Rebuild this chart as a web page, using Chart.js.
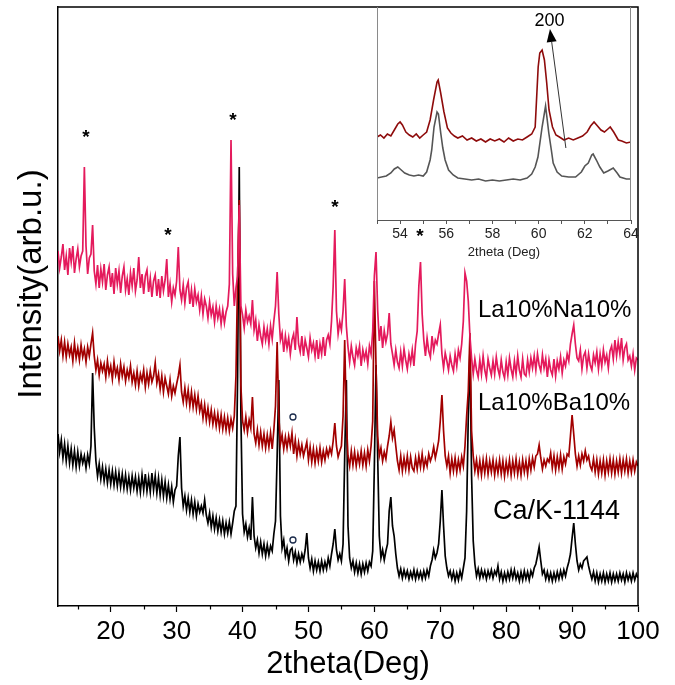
<!DOCTYPE html>
<html>
<head>
<meta charset="utf-8">
<script src="https://cdn.jsdelivr.net/npm/chart.js@4.4.1/dist/chart.umd.min.js"></script>
<style>
  html, body { margin: 0; padding: 0; background: #fff; }
  #wrap { position: relative; width: 675px; height: 685px; }
  #main { position: absolute; left: 0; top: 0; }
  #inset { position: absolute; left: 347px; top: 0; }
</style>
</head>
<body>
<div id="wrap">
  <canvas id="main" width="675" height="685"></canvas>
  <canvas id="inset" width="300" height="262"></canvas>
</div>
<script>
// ---- XRD scans: 2theta from 12 to 100 deg, 0.25 deg step ----
// Each row holds the counts at d, d+0.25, d+0.5, d+0.75 (stacked offsets included, arb. u.)
const scanStart = 12;
const scanStep = 0.25;
const sampleNames = ['La10%Na10%', 'La10%Ba10%', 'Ca/K-1144'];

const naCounts = [
  [355,338,349,362],[336,350,331,358],[344,360,333,347],[357,339,350,355],[439,360,332,348],
  [352,381,335,322],[341,318,337,324],[342,316,331,339],[319,333,312,338],[322,335,313,330],
  [339,316,327,311],[333,320,338,315],[326,349,318,332],[312,330,336,314],[328,309,325,331],
  [310,327,308,330],[315,326,347,309],[322,304,318,311],[325,359,316,306],[321,303,318,324],
  [302,316,299,317],[304,311,296,310],[292,307,300,288],[304,291,299,284],[300,288,297,282],
  [296,283,294,300],[322,466,332,300],[318,330,401,300],[291,278,296,284],[290,282,306,276],
  [286,265,281,270],[262,279,266,277],[262,280,267,285],[300,334,292,266],[273,254,270,258],
  [268,252,266,272],[256,289,262,254],[270,250,266,258],[249,268,256,263],[250,266,247,262],
  [252,269,250,266],[271,262,285,320],[376,295,272,284],[276,295,327,280],[259,244,260,249],
  [241,258,250,260],[240,256,247,255],[242,260,252,275],[330,354,296,265],[280,258,275,264],
  [272,293,262,252],[241,256,244,238],[254,240,257,246],[237,252,243,256],[240,262,275,320],
  [344,292,266,250],[268,255,249,270],[256,266,262,272],[281,252,238,253],[245,236,250,241],
  [235,252,240,256],[248,262,285,333],[325,305,270,248],[232,247,236,229],[246,232,250,236],
  [228,247,238,231],[245,232,249,237],[230,246,234,228],[244,231,248,237],[229,245,232,250],
  [236,229,247,232],[230,246,234,248],[238,250,236,252],[241,235,251,238],[247,229,246,236],
  [231,247,230,245],[237,249,233,246],[240,252,245,262],[272,281,262,248],[245,256,237,250],
  [254,238,252,241],[236,251,243,254],[237,252,240,256],[244,251,238,255],[260,247,266,250],
  [264,252,268,246],[258,262,246,250],[240,252,236,248],[246]
];

const baCounts = [
  [270,255,266,250],[264,249,262,251],[259,245,263,248],[258,246,261,249],[257,244,259,250],
  [262,273,250,236],[246,231,243,235],[242,229,245,232],[240,227,244,231],[238,226,242,230],
  [239,225,236,228],[240,224,233,221],[235,220,232,225],[236,219,233,222],[235,224,230,243],
  [223,232,217,230],[214,228,220,212],[226,210,220,213],[222,230,241,214],[204,218,203,216],
  [200,214,199,211],[197,210,195,203],[188,201,186,198],[184,196,182,193],[180,192,178,191],
  [177,189,176,188],[175,187,178,190],[230,330,406,220],[185,176,189,174],[186,178,209,172],
  [163,176,161,174],[160,172,158,171],[159,173,157,176],[200,264,190,162],[171,157,169,158],
  [170,160,173,152],[166,150,163,152],[161,150,157,164],[146,159,144,157],[143,156,145,158],
  [144,155,146,157],[150,158,152,165],[183,160,149,155],[160,190,266,185],[150,140,155,141],
  [154,140,152,142],[155,141,153,140],[156,145,160,185],[325,240,170,150],[158,145,154,147],
  [160,170,184,168],[176,160,145,136],[150,135,148,137],[150,136,149,138],[135,148,137,150],
  [139,152,138,147],[140,152,145,150],[159,148,156,165],[185,211,175,150],[140,150,133,147],
  [135,148,134,146],[136,149,140,160],[190,215,273,175],[150,135,146,132],[145,131,146,133],
  [147,132,145,134],[146,131,144,133],[146,132,145,130],[144,133,146,131],[145,133,147,132],
  [144,131,146,134],[145,132,147,136],[148,139,150,152],[161,148,137,146],[140,147,144,153],
  [138,150,136,149],[138,151,137,149],[142,152,150,170],[191,172,152,140],[150,141,152,145],
  [155,146,150,140],[136,147,134,146],[132,145,133,146],[131,145,134,147],[133,146,132,145],
  [134,147,133,146],[135,147,133,145],[134,146,135,144],[140]
];

const caKCounts = [
  [172,154,166,148],[162,145,160,143],[157,141,155,139],[154,140,152,143],[150,138,151,142],
  [160,233,178,145],[130,142,127,139],[125,137,123,136],[122,135,121,134],[120,133,119,132],
  [118,131,117,129],[116,130,118,129],[115,128,114,131],[116,132,115,128],[114,133,116,130],
  [113,128,111,126],[110,124,108,121],[107,119,104,116],[120,150,169,118],[100,110,96,108],
  [94,106,92,104],[90,102,94,100],[93,106,91,83],[93,79,90,77],[88,75,86,74],
  [85,72,83,73],[84,72,83,95],[100,230,439,190],[92,74,82,69],[78,66,109,70],
  [58,66,53,64],[52,62,50,61],[51,60,55,72],[85,150,226,90],[58,66,50,58],
  [45,56,58,46],[54,43,52,44],[52,46,56,73],[48,38,47,35],[45,36,44,35],
  [45,36,44,37],[48,40,52,62],[77,56,46,52],[45,62,150,226],[80,48,38,45],
  [34,43,33,42],[32,42,34,43],[35,44,40,55],[140,241,150,70],[48,56,46,55],
  [62,95,109,80],[70,52,38,30],[37,28,36,29],[35,27,34,28],[36,27,35,28],
  [34,27,35,28],[36,30,40,46],[56,48,53,62],[85,116,80,50],[38,30,35,27],
  [34,25,33,26],[35,28,38,48],[95,190,256,130],[65,42,30,37],[28,36,29,35],
  [27,35,29,36],[28,35,31,40],[27,34,25,33],[26,34,27,36],[28,36,27,33],
  [25,34,26,35],[27,34,26,35],[30,38,42,50],[59,45,32,36],[27,34,26,33],
  [25,33,26,34],[27,35,28,36],[30,38,44,52],[68,83,62,45],[36,42,38,45],
  [47,49,40,33],[27,34,25,33],[24,32,25,33],[24,32,25,33],[24,32,25,32],
  [25,33,26,32],[24,33,26,32],[25,33,26,32],[28]
];

// Phase markers: '*' reflections and 'o' reflections (2theta, intensity)
const starMarks = [[16.25,473],[28.69,375],[38.55,490],[54.03,403],[66.92,374]];
const circleMarks = [[47.65,189],[47.65,66]];

// Sample name anchors (2theta, intensity)
const sampleLabelAnchors = [[75.72,296],[75.72,203],[78.0,94]];

const xMajorTicks = [20, 30, 40, 50, 60, 70, 80, 90, 100];
const xMinorTicks = [15, 25, 35, 45, 55, 65, 75, 85, 95];

// ---- Zoomed 53-64 deg region ----
const insetBa = [
  [53.0,83],[53.15,85],[53.3,82],[53.45,86],[53.6,84],[53.75,90],[53.9,96],[54.0,98],[54.1,95],[54.25,88],
  [54.4,85],[54.55,83],[54.7,86],[54.85,82],[55.0,85],[55.15,88],[55.3,100],[55.45,120],[55.6,138],[55.65,140],
  [55.75,128],[55.9,108],[56.05,92],[56.2,87],[56.35,84],[56.5,82],[56.7,84],[56.9,80],[57.1,82],[57.3,79],
  [57.5,81],[57.7,78],[57.9,81],[58.1,79],[58.3,81],[58.5,78],[58.7,82],[58.9,79],[59.1,81],[59.3,80],
  [59.5,83],[59.7,86],[59.85,93],[59.98,153],[60.05,167],[60.15,170],[60.25,160],[60.35,137],[60.45,110],[60.6,93],
  [60.75,85],[60.9,83],[61.1,80],[61.3,82],[61.5,80],[61.7,82],[61.9,84],[62.1,88],[62.25,94],[62.4,98],
  [62.55,94],[62.7,90],[62.85,88],[63.0,91],[63.1,93],[63.25,88],[63.45,80],[63.6,79],[63.8,77],[64.0,78]
];
const insetCaK = [
  [53.0,42],[53.2,43],[53.4,44],[53.6,47],[53.75,51],[53.9,53],[54.05,50],[54.2,47],[54.4,45],[54.6,44],
  [54.8,45],[55.0,44],[55.15,48],[55.3,60],[55.37,70],[55.47,93],[55.6,108],[55.66,106],[55.76,87],[55.85,72],
  [55.95,60],[56.1,50],[56.3,45],[56.5,42],[56.8,41],[57.1,40],[57.4,41],[57.7,39],[58.0,40],[58.3,39],
  [58.6,40],[58.9,41],[59.2,40],[59.5,42],[59.7,46],[59.85,53],[59.97,63],[60.15,93],[60.3,114],[60.44,87],
  [60.55,70],[60.63,57],[60.8,48],[61.0,44],[61.3,43],[61.6,43],[61.85,48],[62.0,54],[62.15,57],[62.3,65],
  [62.36,66],[62.5,60],[62.65,53],[62.82,47],[63.0,49],[63.23,52],[63.4,47],[63.52,43],[63.8,41],[64.0,41]
];
const insetTicks = [53, 54, 55, 56, 57, 58, 59, 60, 61, 62, 63, 64];
// (200) reflection shift arrow: tail -> head, and its label
const arrow200 = { from: [61.18, 72], to: [60.49, 191], label: '200', labelAt: [60.47, 199] };

const FONT = "'Liberation Sans', Arial, sans-serif";
const toXY = pts => pts.map(p => ({ x: p[0], y: p[1] }));
// rows of four readings -> {x: 2theta, y: counts}
const scanToXY = rows => rows.flatMap((row, r) =>
  row.map((c, j) => ({ x: scanStart + (r * 4 + j) * scanStep, y: c })));

// Box frame, minor ticks, markers, sample names and y title
const mainDecor = {
  id: 'mainDecor',
  afterDraw(chart) {
    const { ctx, chartArea: a, scales: { x, y } } = chart;
    ctx.save();
    ctx.strokeStyle = '#000';
    ctx.lineWidth = 1.5;
    ctx.beginPath();
    ctx.moveTo(a.left, a.top); ctx.lineTo(a.right, a.top); ctx.lineTo(a.right, a.bottom);
    ctx.stroke();
    ctx.lineWidth = 1.2;
    xMinorTicks.forEach(v => {
      const px = Math.round(x.getPixelForValue(v)) + 0.5;
      ctx.beginPath(); ctx.moveTo(px, a.bottom); ctx.lineTo(px, a.bottom + 3.5); ctx.stroke();
    });
    ctx.fillStyle = '#000';
    ctx.font = 'bold 19px ' + FONT;
    ctx.textAlign = 'center';
    ctx.textBaseline = 'middle';
    starMarks.forEach(s => ctx.fillText('*', x.getPixelForValue(s[0]), y.getPixelForValue(s[1]) + 5));
    ctx.textAlign = 'left';
    sampleNames.forEach((name, i) => {
      ctx.font = (i === 2 ? '27px ' : '24px ') + FONT;
      ctx.fillText(name, x.getPixelForValue(sampleLabelAnchors[i][0]), y.getPixelForValue(sampleLabelAnchors[i][1]));
    });
    ctx.translate(32, 284);
    ctx.rotate(-Math.PI / 2);
    ctx.textAlign = 'center';
    ctx.font = '33px ' + FONT;
    ctx.fillText('Intensity(arb.u.)', 0, 0);
    ctx.restore();
  }
};

new Chart(document.getElementById('main'), {
  type: 'scatter',
  data: {
    datasets: [
      { label: 'o', data: toXY(circleMarks), showLine: false, pointRadius: 3, pointStyle: 'circle',
        borderColor: '#1c2c4c', backgroundColor: '#fff', borderWidth: 1.3 },
      { label: sampleNames[0], data: scanToXY(naCounts), showLine: true, borderColor: '#e41a5c', borderWidth: 1.7, pointRadius: 0, tension: 0 },
      { label: sampleNames[1], data: scanToXY(baCounts), showLine: true, borderColor: '#a20000', borderWidth: 1.7, pointRadius: 0, tension: 0 },
      { label: sampleNames[2], data: scanToXY(caKCounts), showLine: true, borderColor: '#000000', borderWidth: 1.7, pointRadius: 0, tension: 0 }
    ]
  },
  options: {
    responsive: false, animation: false, devicePixelRatio: 1,
    layout: { padding: { top: 7, right: 37, left: 0, bottom: 0 } },
    plugins: { legend: { display: false }, tooltip: { enabled: false } },
    scales: {
      x: {
        type: 'linear', min: 12, max: 100,
        afterBuildTicks: s => { s.ticks = xMajorTicks.map(v => ({ value: v })); },
        afterFit: s => { s.height = 79; },
        ticks: { font: { family: FONT, size: 26 }, color: '#000', padding: 4, maxRotation: 0, autoSkip: false },
        grid: { drawOnChartArea: false, drawTicks: true, tickLength: 6, tickColor: '#000', tickWidth: 1.2 },
        border: { display: true, color: '#000', width: 1.5 },
        title: { display: true, text: '2theta(Deg)', font: { family: FONT, size: 31 }, color: '#000', padding: { top: 0, bottom: 2 } }
      },
      y: {
        type: 'linear', min: 0, max: 599,
        afterFit: s => { s.width = 58; },
        ticks: { display: false },
        grid: { display: false, drawTicks: false },
        border: { display: true, color: '#000', width: 1.5 }
      }
    }
  },
  plugins: [mainDecor]
});

// Inset: white panel, side frame, (200) arrow
const insetDecor = {
  id: 'insetDecor',
  beforeDatasetsDraw(chart) {
    const { ctx, chartArea: a } = chart;
    ctx.save();
    ctx.fillStyle = '#fff';
    ctx.fillRect(a.left, a.top + 1, a.right - a.left, a.bottom - a.top - 1);
    ctx.restore();
  },
  afterDraw(chart) {
    const { ctx, chartArea: a, scales: { x, y } } = chart;
    ctx.save();
    ctx.strokeStyle = '#8a8a8a';
    ctx.lineWidth = 1;
    ctx.beginPath();
    ctx.moveTo(a.left + 0.5, a.top); ctx.lineTo(a.left + 0.5, a.bottom);
    ctx.moveTo(a.right - 0.5, a.top); ctx.lineTo(a.right - 0.5, a.bottom);
    ctx.stroke();
    const x0 = x.getPixelForValue(arrow200.from[0]), y0 = y.getPixelForValue(arrow200.from[1]);
    const x1 = x.getPixelForValue(arrow200.to[0]), y1 = y.getPixelForValue(arrow200.to[1]);
    const ang = Math.atan2(y1 - y0, x1 - x0);
    const hl = 13, hw = 5;
    ctx.strokeStyle = '#333';
    ctx.beginPath(); ctx.moveTo(x0, y0);
    ctx.lineTo(x1 - hl * Math.cos(ang), y1 - hl * Math.sin(ang)); ctx.stroke();
    ctx.fillStyle = '#000';
    ctx.beginPath();
    ctx.moveTo(x1, y1);
    ctx.lineTo(x1 - hl * Math.cos(ang) + hw * Math.sin(ang), y1 - hl * Math.sin(ang) - hw * Math.cos(ang));
    ctx.lineTo(x1 - hl * Math.cos(ang) - hw * Math.sin(ang), y1 - hl * Math.sin(ang) + hw * Math.cos(ang));
    ctx.closePath(); ctx.fill();
    ctx.font = '18px ' + FONT;
    ctx.textAlign = 'center';
    ctx.textBaseline = 'middle';
    ctx.fillText(arrow200.label, x.getPixelForValue(arrow200.labelAt[0]), y.getPixelForValue(arrow200.labelAt[1]));
    ctx.restore();
  }
};

new Chart(document.getElementById('inset'), {
  type: 'scatter',
  data: {
    datasets: [
      { label: sampleNames[1], data: toXY(insetBa), showLine: true, borderColor: '#8e0b0b', borderWidth: 1.6, pointRadius: 0, tension: 0 },
      { label: sampleNames[2], data: toXY(insetCaK), showLine: true, borderColor: '#555555', borderWidth: 1.6, pointRadius: 0, tension: 0 }
    ]
  },
  options: {
    responsive: false, animation: false, devicePixelRatio: 1,
    layout: { padding: { top: 7, right: 16, left: 30, bottom: 0 } },
    plugins: { legend: { display: false }, tooltip: { enabled: false } },
    scales: {
      x: {
        type: 'linear', min: 53, max: 64,
        afterBuildTicks: s => { s.ticks = insetTicks.map(v => ({ value: v })); },
        afterFit: s => { s.height = 42; },
        ticks: { font: { family: FONT, size: 14 }, color: '#222', padding: 2, maxRotation: 0, autoSkip: false,
                 callback: v => (v % 2 === 0 ? String(v) : '') },
        grid: { drawOnChartArea: false, drawTicks: true, tickLength: 4, tickColor: '#555', tickWidth: 1 },
        border: { display: true, color: '#555', width: 1 },
        title: { display: true, text: '2theta (Deg)', font: { family: FONT, size: 13 }, color: '#222', padding: { top: 0, bottom: 2 } }
      },
      y: { type: 'linear', min: 0, max: 213, display: false }
    }
  },
  plugins: [insetDecor]
});
</script>
</body>
</html>
